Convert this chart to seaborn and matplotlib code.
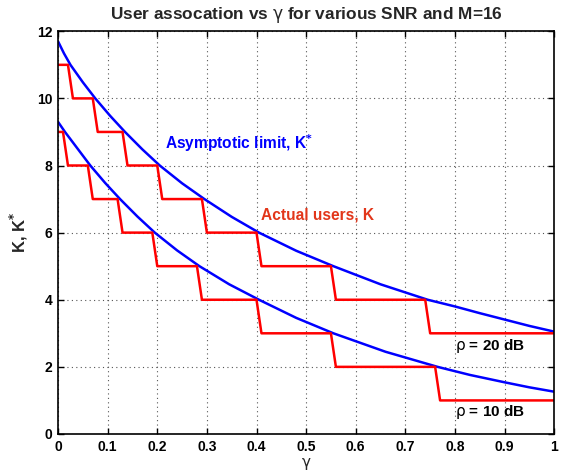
import numpy as np
import seaborn as sns
import matplotlib.pyplot as plt

# blue curves: asymptotic limit K*
gamma_hi = [0, 0.012, 0.025, 0.05, 0.075, 0.105, 0.135, 0.17, 0.205, 0.25, 0.295,
            0.35, 0.405, 0.48, 0.555, 0.65, 0.745, 0.8, 0.85, 0.9, 0.95, 1.0]
kstar_20db = [11.7, 11.34, 11.0, 10.48, 10.0, 9.48, 9.0, 8.48, 8.0, 7.47, 7.0,
              6.47, 6.0, 5.46, 5.0, 4.46, 4.0, 3.8, 3.6, 3.41, 3.22, 3.05]

gamma_lo = [0, 0.014, 0.04, 0.065, 0.095, 0.125, 0.16, 0.195, 0.24, 0.285, 0.345,
            0.405, 0.48, 0.555, 0.66, 0.765, 0.83, 0.9, 0.95, 1.0]
kstar_10db = [9.3, 9.0, 8.49, 8.0, 7.48, 7.0, 6.48, 6.0, 5.47, 5.0, 4.46,
              4.0, 3.46, 3.0, 2.45, 2.0, 1.76, 1.54, 1.39, 1.26]

# red step curves: actual users K, level and where it drops (sampled every 0.01)
levels_20db = [11, 10, 9, 8, 7, 6, 5, 4, 3]
drops_20db = [0.02, 0.07, 0.13, 0.20, 0.29, 0.40, 0.55, 0.74]
levels_10db = [9, 8, 7, 6, 5, 4, 3, 2, 1]
drops_10db = [0.01, 0.06, 0.12, 0.19, 0.28, 0.40, 0.55, 0.76]
step = 0.01


def step_line(levels, drops):
    xs, ys = [0.0], [levels[0]]
    for lev_next, d in zip(levels[1:], drops):
        xs += [d, d + step]
        ys += [ys[-1], lev_next]
    xs.append(1.0)
    ys.append(levels[-1])
    return xs, ys


sns.set_theme(style="white")
plt.rcParams['font.family'] = ['Liberation Sans', 'DejaVu Sans']

fig = plt.figure(figsize=(5.69, 4.71), dpi=100)
ax = fig.add_axes([0.102, 0.0786, 0.872, 0.855])

sns.lineplot(x=gamma_hi, y=kstar_20db, ax=ax, color='#0000ff', lw=1.8, sort=False)
sns.lineplot(x=gamma_lo, y=kstar_10db, ax=ax, color='#0000ff', lw=1.8, sort=False)
for lv, dr in [(levels_20db, drops_20db), (levels_10db, drops_10db)]:
    sx, sy = step_line(lv, dr)
    sns.lineplot(x=sx, y=sy, ax=ax, color='#ff0000', lw=1.8, sort=False)

ax.set_xlim(0, 1)
ax.set_ylim(0, 12)
ax.set_xticks(np.arange(0, 1.01, 0.1))
ax.set_xticklabels(['0', '0.1', '0.2', '0.3', '0.4', '0.5', '0.6', '0.7', '0.8', '0.9', '1'])
ax.set_yticks(range(0, 13, 2))
ax.grid(True, linestyle=(0, (1, 3)), color='#555555', lw=0.8)
ax.tick_params(direction='in', length=4, width=1, colors='black', labelsize=10,
               top=True, right=True, bottom=True, left=True, pad=4)
for lab in ax.get_xticklabels() + ax.get_yticklabels():
    lab.set_fontweight('bold')
for sp in ax.spines.values():
    sp.set_color('black')
    sp.set_linewidth(1.2)

ax.set_xlabel(r'$\mathrm{\gamma}$', fontsize=11, labelpad=2)
ax.set_ylabel(r'K, K$^{\mathbf{*}}$', fontsize=12, fontweight='bold', labelpad=5)
ax.set_title(r'User assocation vs $\mathrm{\gamma}$ for various SNR and M=16',
             fontsize=12.4, fontweight='bold', pad=9)

ax.text(0.216, 8.66, r'Asymptotic limit, K$^{\mathbf{*}}$', color='#0000ff',
        fontsize=11.2, fontweight='bold', va='center')
ax.text(0.41, 6.52, 'Actual users, K', color='#e2361a', fontsize=11.2,
        fontweight='bold', va='center')
ax.text(0.80, 2.62, r'$\mathrm{\rho}$ = 20 dB', color='black', fontsize=11,
        fontweight='bold', va='center')
ax.text(0.80, 0.65, r'$\mathrm{\rho}$ = 10 dB', color='black', fontsize=11,
        fontweight='bold', va='center')

fig.savefig('out.png', dpi=100)
